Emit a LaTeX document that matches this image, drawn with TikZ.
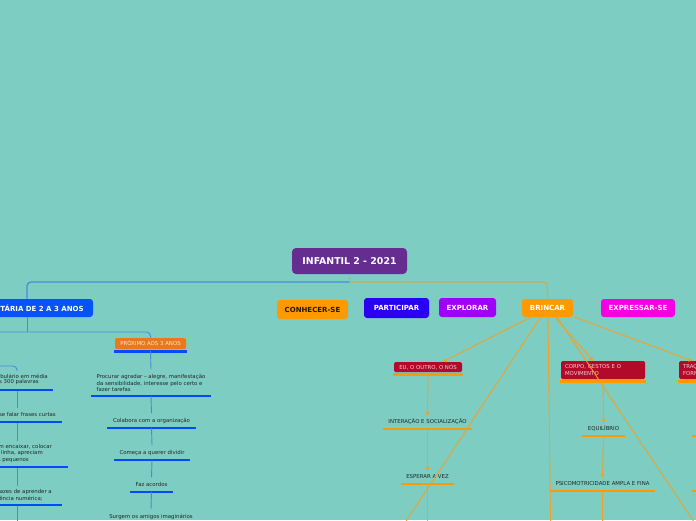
\documentclass[tikz,border=0pt]{standalone}
\usepackage{fontspec}
\setmainfont{DejaVu Sans}
\usetikzlibrary{arrows.meta,calc}
\definecolor{bgc}{RGB}{126,205,194}
\definecolor{rootc}{RGB}{102,45,145}
\definecolor{blueN}{RGB}{8,82,250}
\definecolor{partc}{RGB}{42,0,245}
\definecolor{explc}{RGB}{160,0,250}
\definecolor{orangeN}{RGB}{255,153,0}
\definecolor{exprc}{RGB}{245,0,228}
\definecolor{redbx}{RGB}{178,10,40}
\definecolor{redtx}{RGB}{245,205,215}
\definecolor{proxc}{RGB}{235,120,30}
\definecolor{proxt}{RGB}{255,228,205}
\definecolor{ulblue}{RGB}{0,75,250}
\definecolor{connB}{RGB}{70,140,222}
\definecolor{connO}{RGB}{242,160,38}
\definecolor{rootO}{RGB}{212,170,78}
\definecolor{darkT}{RGB}{30,40,40}
\definecolor{catT}{RGB}{25,25,25}
\begin{document}
\begin{tikzpicture}[x=1pt,y=-1pt,
  rootbox/.style={fill=rootc, rounded corners=4pt, text=white, font=\bfseries\fontsize{9.4}{11}\selectfont, minimum width=115pt, minimum height=26pt, inner sep=0pt},
  catbox/.style={rounded corners=3pt, font=\bfseries\fontsize{7}{8}\selectfont, minimum height=18pt, inner sep=0pt, text=white},
  rbox/.style={fill=redbx, text=redtx, rounded corners=1.5pt, font=\fontsize{5.4}{6.6}\selectfont, inner sep=0pt},
  pbox/.style={fill=proxc, text=proxt, rounded corners=1.5pt, font=\fontsize{5.4}{6.6}\selectfont, inner sep=0pt, minimum width=71pt, minimum height=11pt},
  ctext/.style={text=darkT, font=\fontsize{5.4}{6.5}\selectfont, inner sep=0pt},
  cone/.style={ctext, text height=4.3pt, text depth=1pt},
  bconn/.style={draw=connB, line width=0.9pt},
  oconn/.style={draw=connO, line width=0.9pt},
  arr/.style={-{Triangle[length=3.5pt,width=4pt]}},
  ulB/.style={draw=ulblue, line width=2.6pt},
  ulO/.style={draw=orangeN, line width=2.6pt}
]
\useasboundingbox (0,0) rectangle (696,520);
\fill[bgc] (0,0) rectangle (696,520);

% main nodes
\node[rootbox] (root) at (349.5,261) {INFANTIL 2 - 2021};
\node[catbox, fill=blueN, minimum width=132pt] (faixa) at (27,308) {FAIXA ETÁRIA DE 2 A 3 ANOS};
\node[catbox, fill=orangeN, text=catT, minimum width=71pt, minimum height=19pt] (conhecer) at (312.5,309.5) {CONHECER-SE};
\node[catbox, fill=partc, minimum width=65pt, minimum height=20pt] (participar) at (396.5,308) {PARTICIPAR};
\node[catbox, fill=explc, minimum width=57pt, minimum height=19pt] (explorar) at (467.5,307.5) {EXPLORAR};
\node[catbox, fill=orangeN, minimum width=51pt] (brincar) at (547.5,308) {BRINCAR};
\node[catbox, fill=exprc, minimum width=74pt] (expressar) at (638,308) {EXPRESSAR-SE};

% root connectors
\coordinate (rj) at (349.5,282);
\draw[draw=rootO, line width=1.3pt] (root.south) -- (rj);
\draw[draw=connB, line width=1.3pt, rounded corners=4pt] (rj) -| (faixa.north);
\draw[draw=rootO, line width=1.3pt, rounded corners=4pt] (rj) -| (brincar.north);

% blue subtree
\node[pbox] (prox) at (150.5,343.5) {PRÓXIMO AOS 3 ANOS};
\coordinate (fj) at (27,332);
\coordinate (fleft) at (-10,332);
\draw[bconn] (faixa.south) -- (fj);
\draw[bconn, rounded corners=4pt] (fleft) -| (prox.north);
\draw[ulB] ([shift={(-1pt,-2pt)}]prox.south west) -- ([shift={(1pt,-2pt)}]prox.south east);

\node[ctext, anchor=south, align=left] (proc) at (151,392) {Procurar agradar – alegre, manifestação\\da sensibilidade, interesse pelo certo e\\fazer tarefas};
\node[cone, anchor=south] (colab) at (151.5,424) {Colabora com a organização};
\node[cone, anchor=south] (comeca) at (152,456) {Começa a querer dividir};
\node[cone, anchor=south] (faz) at (151.5,488) {Faz acordos};
\node[cone] (surgem) at (151,517) {Surgem os amigos imaginários};
\foreach \n in {proc,colab,comeca,faz}
  \draw[ulB] ([shift={(-5.5pt,-4pt)}]\n.south west) -- ([shift={(5.5pt,-4pt)}]\n.south east);
\draw[bconn] ([yshift=-2pt]prox.south) -- ([yshift=5pt]proc.north);
\draw[bconn] ([yshift=-4pt]proc.south) -- ([yshift=5pt]colab.north);
\draw[bconn] ([yshift=-4pt]colab.south) -- ([yshift=5pt]comeca.north);
\draw[bconn] ([yshift=-4pt]comeca.south) -- ([yshift=5pt]faz.north);
\draw[bconn] ([yshift=-4pt]faz.south) -- ([yshift=5pt]surgem.north);

% left column (cut by the page edge)
\coordinate (lcA) at (-10,366);
\coordinate (lcB) at (17,540);
\node[ctext, anchor=east] (l1a) at (48,376) {Tem um vocabulário em média};
\node[ctext, anchor=east] (l1b) at (39,382.5) {de umas 300 palavras};
\node[ctext, anchor=east] (l2a) at (56,414.5) {Esforça-se falar frases curtas};
\node[ctext, anchor=east] (l3a) at (52,447) {Conseguem encaixar, colocar};
\node[ctext, anchor=east] (l3b) at (43,453.3) {objetos em linha, apreciam};
\node[ctext, anchor=east] (l3c) at (29,459.6) {objetos pequenos};
\node[ctext, anchor=east] (l4a) at (52,492) {São capazes de aprender a};
\node[ctext, anchor=east] (l4b) at (43,498.5) {sequência numérica;};
\coordinate (u1) at (53,390); \coordinate (u2) at (62,422);
\coordinate (u3) at (68,467); \coordinate (u4) at (62,505);
\draw[ulB] (-20,390) -- (u1);
\draw[ulB] (-20,422) -- (u2);
\draw[ulB] (-20,467) -- (u3);
\draw[ulB] (-20,505) -- (u4);
\draw[bconn, rounded corners=4pt] (lcA) -| (17,371);
\draw[bconn] (17,391) -- (17,408);
\draw[bconn] (17,423) -- (17,441);
\draw[bconn] (17,468) -- (17,486);
\draw[bconn] (17,506) -- (lcB);

% BRINCAR subtree
\node[rbox, minimum width=68pt, minimum height=10pt] (eu) at (428,367) {EU, O OUTRO, O NÓS};
\node[rbox, text width=76pt, align=left, inner xsep=4pt, minimum height=18pt] (corpo) at (603,370) {CORPO, GESTOS E O\\MOVIMENTO};
\node[rbox, text width=76pt, align=left, inner xsep=4pt, minimum height=18pt] (tracos) at (721,370) {TRAÇOS, SONS, CORES E\\FORMAS};
\foreach \n in {eu,corpo,tracos}
  \draw[ulO] ([shift={(-1pt,-2pt)}]\n.south west) -- ([shift={(1pt,-2pt)}]\n.south east);

\node[cone, anchor=south] (inter) at (427.5,425) {INTERAÇÃO E SOCIALIZAÇÃO};
\node[cone, anchor=south] (esperar) at (427.5,480) {ESPERAR A VEZ};
\node[cone, anchor=south] (equil) at (603.5,432) {EQUILÍBRIO};
\node[cone, anchor=south] (psico) at (602.5,487) {PSICOMOTRICIDADE AMPLA E FINA};
\foreach \n in {inter,esperar,equil,psico}
  \draw[ulO] ([shift={(-5.5pt,-4pt)}]\n.south west) -- ([shift={(5.5pt,-4pt)}]\n.south east);

\coordinate (dl) at (380.5,560);
\coordinate (dv) at (551,560);
\coordinate (dr) at (719.5,560);
\coordinate (eb) at (427.5,560);
\coordinate (pb) at (602.5,560);
\draw[oconn, arr] ([xshift=-17pt]brincar.south) -- ([xshift=15pt]eu.north);
\draw[oconn] ([xshift=-7pt]brincar.south) -- (dl);
\draw[oconn] ([xshift=0.5pt]brincar.south) -- (dv);
\draw[oconn, arr] ([xshift=7.5pt]brincar.south) -- ([xshift=-10pt]corpo.north);
\draw[oconn] ([xshift=9.5pt]brincar.south) -- (dr);
\draw[oconn, arr] ([xshift=27.5pt]brincar.south) -- ([xshift=-29pt]tracos.north);

\draw[oconn, arr] ([yshift=-2pt]eu.south) -- ([yshift=3.5pt]inter.north);
\draw[oconn, arr] ([yshift=-4pt]inter.south) -- ([yshift=3.5pt]esperar.north);
\draw[oconn] ([yshift=-4pt]esperar.south) -- (eb);
\draw[oconn, arr] ([yshift=-2pt]corpo.south) -- ([yshift=3.5pt]equil.north);
\draw[oconn, arr] ([yshift=-4pt]equil.south) -- ([yshift=3.5pt]psico.north);
\draw[oconn] ([yshift=-4pt]psico.south) -- (pb);

% children of the right-hand box (beyond the page edge)
\coordinate (r1) at (692,436); \coordinate (r2) at (692,491);
\draw[ulO] (r1) -- (760,436);
\draw[ulO] (r2) -- (760,491);
\end{tikzpicture}
\end{document}
